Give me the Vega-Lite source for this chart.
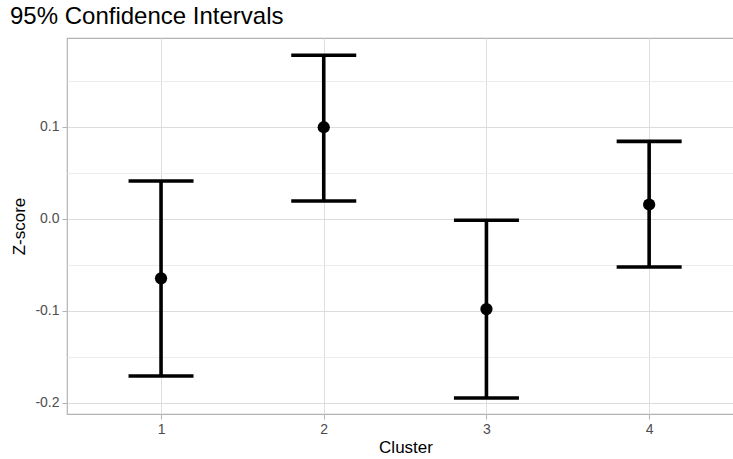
{
  "$schema": "https://vega.github.io/schema/vega-lite/v6.json",
  "autosize": {"type": "none"},
  "width": 677,
  "height": 376,
  "padding": {"left": 67, "top": 38, "right": 0, "bottom": 45},
  "background": "white",
  "title": {
    "text": "95% Confidence Intervals",
    "anchor": "start",
    "frame": "group",
    "font": "Liberation Sans",
    "fontSize": 24,
    "fontWeight": "normal",
    "color": "#000000",
    "offset": 9,
    "dx": -57
  },
  "config": {
    "view": {"stroke": "#b3b3b3", "strokeWidth": 1.2},
    "axis": {
      "labelFont": "Liberation Sans",
      "titleFont": "Liberation Sans",
      "labelFontSize": 14,
      "labelColor": "#4d4d4d",
      "titleFontSize": 17,
      "titleFontWeight": "normal",
      "titleColor": "#000000",
      "domain": false,
      "tickColor": "#b3b3b3",
      "tickSize": 5,
      "labelPadding": 3
    }
  },
  "data": {
    "values": [
      {"cluster": 1, "mean": -0.0645, "lower": -0.1707, "upper": 0.0413},
      {"cluster": 2, "mean": 0.0997, "lower": 0.0196, "upper": 0.178},
      {"cluster": 3, "mean": -0.098, "lower": -0.1946, "upper": -0.0014},
      {"cluster": 4, "mean": 0.0157, "lower": -0.0522, "upper": 0.0843}
    ]
  },
  "encoding": {
    "x": {
      "field": "cluster",
      "type": "quantitative",
      "scale": {"domain": [0.422, 4.583], "nice": false, "zero": false},
      "axis": {
        "title": "Cluster",
        "values": [1, 2, 3, 4],
        "format": "d",
        "gridColor": "#dedede",
        "gridWidth": 1,
        "titlePadding": 3
      }
    }
  },
  "layer": [
    {
      "mark": {"type": "rule", "color": "black", "strokeWidth": 3.6},
      "encoding": {
        "y": {
          "field": "lower",
          "type": "quantitative",
          "scale": {"domain": [-0.212, 0.1967], "nice": false, "zero": false},
          "axis": {
            "title": "Z-score",
            "values": [-0.2, -0.15, -0.1, -0.05, 0, 0.05, 0.1, 0.15],
            "labelExpr": "abs(datum.value*10 - round(datum.value*10)) < 0.01 ? replace(format(datum.value, '.1f'), '\u2212', '-') : ''",
            "tickOpacity": {"condition": {"test": "abs(datum.value*10 - round(datum.value*10)) < 0.01", "value": 1}, "value": 0},
            "gridColor": {"condition": {"test": "abs(datum.value*10 - round(datum.value*10)) < 0.01", "value": "#dcdcdc"}, "value": "#ececec"},
            "gridWidth": 1,
            "titlePadding": 6
          }
        },
        "y2": {"field": "upper"}
      }
    },
    {
      "mark": {"type": "tick", "orient": "horizontal", "color": "black", "size": 65, "thickness": 3.6, "opacity": 1},
      "encoding": {"y": {"field": "lower", "type": "quantitative"}}
    },
    {
      "mark": {"type": "tick", "orient": "horizontal", "color": "black", "size": 65, "thickness": 3.6, "opacity": 1},
      "encoding": {"y": {"field": "upper", "type": "quantitative"}}
    },
    {
      "mark": {"type": "point", "filled": true, "color": "black", "opacity": 1, "size": 150},
      "encoding": {"y": {"field": "mean", "type": "quantitative"}}
    }
  ]
}
